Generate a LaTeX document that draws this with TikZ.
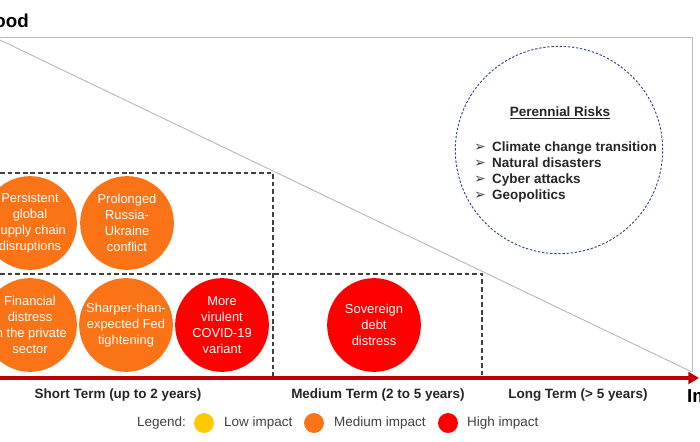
\documentclass[tikz,border=0pt]{standalone}
\usepackage{fontspec}
\setmainfont{Liberation Sans}
\newfontfamily\symfont{DejaVu Sans}
\usetikzlibrary{arrows.meta}

\definecolor{riskorange}{RGB}{250,115,22}
\definecolor{riskred}{RGB}{255,0,0}
\definecolor{riskyellow}{RGB}{255,200,0}
\definecolor{axisred}{RGB}{192,0,0}
\definecolor{framegray}{RGB}{185,185,185}
\definecolor{perinavy}{RGB}{47,72,130}
\definecolor{txtgray}{RGB}{64,64,64}

\begin{document}
\begin{tikzpicture}[x=0.03cm,y=-0.03cm,
	risk/.style={circle,inner sep=0pt,minimum size=80pt,text=white,align=center,
		font=\fontsize{11}{13.8}\selectfont},
	medium/.style={risk,fill=riskorange},
	high/.style={risk,fill=riskred},
	frame/.style={draw=framegray,line width=0.8pt},
	zone/.style={draw=black!75,line width=1.1pt,dash pattern=on 4pt off 2.5pt},
	term/.style={font=\fontsize{11.5}{13}\selectfont\bfseries,text=black!85},
	axistitle/.style={font=\fontsize{16}{18}\selectfont\bfseries,inner sep=0pt},
	item/.style={font=\fontsize{11.5}{13}\selectfont\bfseries,text=black!85,inner sep=0pt,anchor=base west},
	pointer/.style={font=\symfont\fontsize{12}{14}\selectfont,text=black!75,inner sep=0pt,anchor=base west},
	key/.style={circle,inner sep=0pt,minimum size=17pt},
	keytext/.style={font=\fontsize{11.5}{13}\selectfont,text=txtgray,inner sep=0pt,anchor=west}]

	\useasboundingbox (0,0) rectangle (700,441);
	\clip (0,0) rectangle (700,441);

	\coordinate (TL) at (-5,37);
	\coordinate (TR) at (692,37);
	\coordinate (BR) at (692,372);
	\coordinate (D) at (0,40);

	\draw[frame] (TL) -- (TR) -- (BR);
	\draw[frame] (D) -- (BR);

	% time zones
	\draw[zone] (0,173) -- (273,173) -- (273,378);
	\draw[zone] (0,274) -- (482,274) -- (482,378);

	% impact axis
	\coordinate (O) at (-5,378);
	\coordinate (E) at (699,378);
	\draw[axisred,line width=3.4pt,-{Triangle[length=9pt,width=10pt]}] (O) -- (E);

	\node[axistitle,anchor=base east] (likelihood) at (29,27) {Likelihood};
	\node[axistitle,anchor=base west] (impact) at (687,402) {Impact};

	\node[term] (short) at (118,395) {Short Term (up to 2 years)};
	\node[term] (mid) at (378,395) {Medium Term (2 to 5 years)};
	\node[term] (long) at (578,395) {Long Term (> 5 years)};

	% risks
	\node[medium] (supply) at (30,223) {Persistent\\global\\supply chain\\disruptions};
	\node[medium] (russia) at (127,223) {Prolonged\\Russia-\\Ukraine\\conflict};
	\node[medium] (finance) at (30,325) {Financial\\distress\\in the private\\sector};
	\node[medium] (fed) at (126,325) {Sharper-than-\\expected Fed\\tightening};
	\node[high] (covid) at (222,325) {More\\virulent\\COVID-19\\variant};
	\node[high] (debt) at (374,325) {Sovereign\\debt\\distress};

	% perennial risks
	\node[circle,draw=perinavy,line width=0.8pt,dash pattern=on 2pt off 1.5pt,
		minimum size=177pt,inner sep=0pt] (perennial) at (559,150) {};
	\node[term] (ptitle) at (560,113) {\underline{Perennial Risks}};

	\node[pointer] (b1) at (474,151) {➢};
	\node[pointer] (b2) at (474,167) {➢};
	\node[pointer] (b3) at (474,183) {➢};
	\node[pointer] (b4) at (474,199) {➢};
	\node[item] (p1) at (492,151) {Climate change transition};
	\node[item] (p2) at (492,167) {Natural disasters};
	\node[item] (p3) at (492,183) {Cyber attacks};
	\node[item] (p4) at (492,199) {Geopolitics};

	% legend
	\node[keytext] (legend) at (137,423) {Legend:};
	\node[key,fill=riskyellow] (klow) at (204,423) {};
	\node[keytext] (tlow) at (224,423) {Low impact};
	\node[key,fill=riskorange] (kmed) at (314,423) {};
	\node[keytext] (tmed) at (334,423) {Medium impact};
	\node[key,fill=riskred] (khigh) at (448,423) {};
	\node[keytext] (thigh) at (467,423) {High impact};
\end{tikzpicture}
\end{document}
